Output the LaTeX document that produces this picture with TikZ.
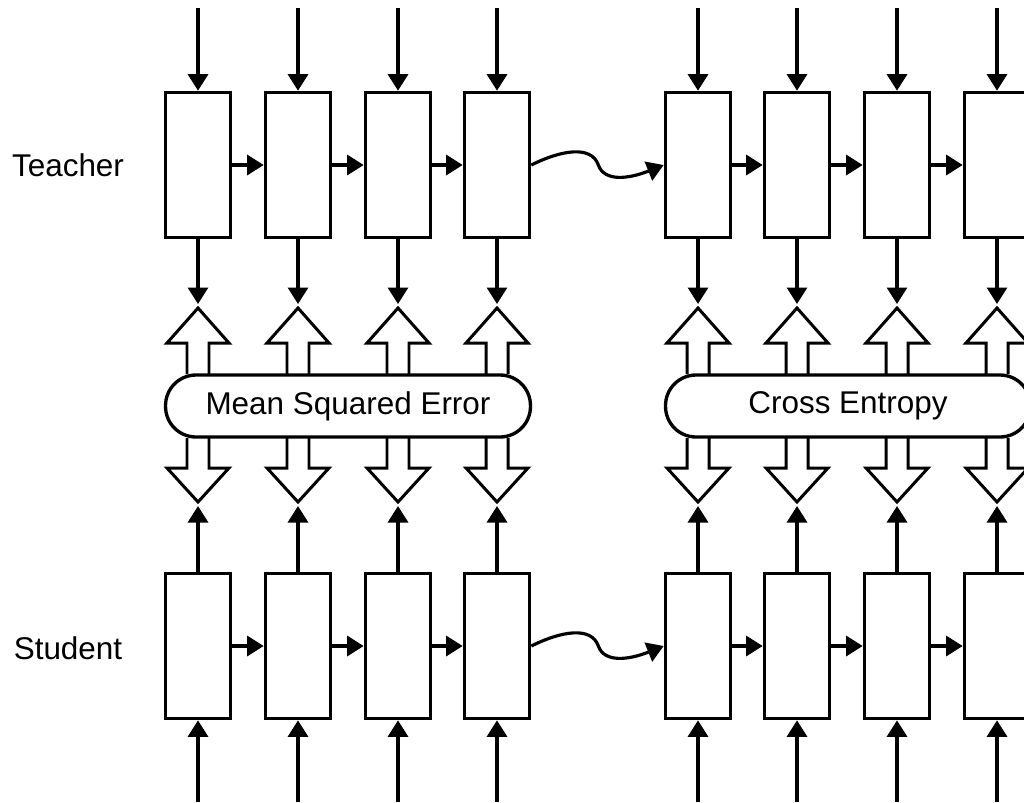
\documentclass[tikz,border=0pt]{standalone}
\usepackage{fontspec}
\setmainfont{Liberation Sans}
\usetikzlibrary{arrows.meta}

\tikzset{
  cell/.style={draw, line width=2.1pt, fill=white, minimum width=1.3cm, minimum height=2.9cm, inner sep=0pt},
  flow/.style={line width=1.8pt, -{Triangle[length=0.33cm,width=0.4cm]}},
  lossbox/.style={draw, line width=1.9pt, fill=white, rounded corners=0.61cm, minimum width=7.3cm, minimum height=1.24cm},
  hollow/.style={draw, line width=1.7pt, fill=white, line join=miter},
  upblock/.pic={\draw[hollow] (-11,0) -- (-11,-31) -- (-31,-31) -- (0,-66) -- (31,-31) -- (11,-31) -- (11,0);},
  downblock/.pic={\draw[hollow] (-11,0) -- (-11,30) -- (-31,30) -- (0,64) -- (31,30) -- (11,30) -- (11,0);},
}

\begin{document}
\begin{tikzpicture}[x=0.02cm, y=-0.02cm, every node/.style={font=\fontsize{17.9}{20}\selectfont}]
  \useasboundingbox (0,0) rectangle (1024,802);

  \node (teacher) at (68,165) {Teacher};
  \node (student) at (68,648) {Student};

  % one column per time step
  \foreach \i/\x in {1/198,2/298,3/398,4/497,5/698,6/797,7/897,8/997} {
    \node[cell] (t\i) at (\x,165) {};
    \node[cell] (s\i) at (\x,646) {};
    \coordinate (tin\i) at (\x,8);
    \coordinate (sin\i) at (\x,802);
    \coordinate (tout\i) at (\x,304);
    \coordinate (sout\i) at (\x,506);

    \draw[flow] (tin\i) -- (t\i);
    \draw[flow] (t\i) -- (tout\i);
    \draw[flow] (sin\i) -- (s\i);
    \draw[flow] (s\i) -- (sout\i);

    \pic at (\x,374) {upblock};
    \pic at (\x,438) {downblock};
  }

  \foreach \i/\j in {1/2,2/3,3/4,5/6,6/7,7/8} {
    \draw[flow] (t\i) -- (t\j);
    \draw[flow] (s\i) -- (s\j);
  }

  \draw[flow] (t4.east) .. controls +(30,-15) and +(-7,-20) .. +(67,0)
    .. controls +(6,17) and +(-35,14) .. (t5.west);
  \draw[flow] (s4.east) .. controls +(30,-15) and +(-7,-20) .. +(67,0)
    .. controls +(6,17) and +(-35,14) .. (s5.west);

  \node[lossbox] (mse) at (348,406) {Mean Squared Error};
  \node[lossbox] (ce) at (848,406) {Cross Entropy};
\end{tikzpicture}
\end{document}
